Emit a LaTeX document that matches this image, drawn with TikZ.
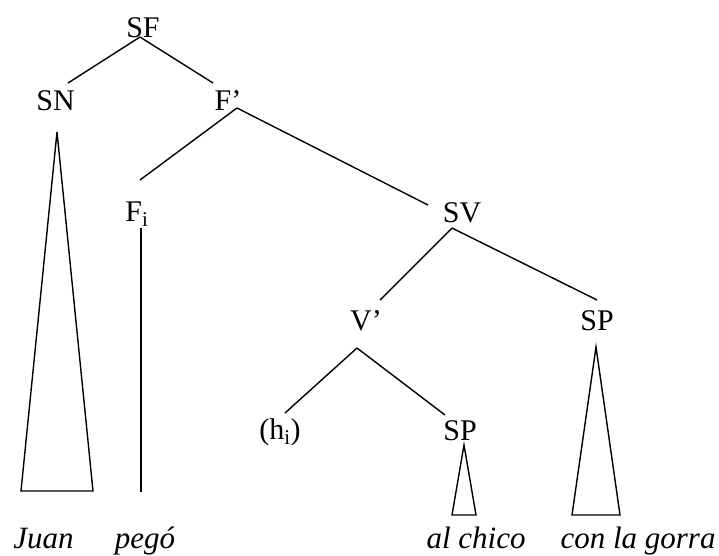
\documentclass[tikz,border=0pt]{standalone}
\usepackage{fontspec}
\setmainfont{Liberation Serif}
\usepackage{tikz}

\begin{document}
\begin{tikzpicture}[x=1pt, y=-1pt, line width=1.4pt,
	lbl/.style={anchor=base, inner sep=0pt, font=\fontsize{30}{36}\selectfont},
	leaf/.style={anchor=base, inner sep=0pt, font=\fontsize{31}{37}\selectfont\itshape}]
	\useasboundingbox (0,0) rectangle (719,555);
	% labels
	\node (sf) [at={(143,37)}, lbl] {SF};
	\node (sn) [at={(55.5,110)}, lbl] {SN};
	\node (fbar) [at={(228,110)}, lbl] {F'};
	\node (fi) [at={(137,221)}, lbl] {F\textsubscript{i}};
	\node (sv) [at={(462,222)}, lbl] {SV};
	\node (vbar) [at={(366,330)}, lbl] {V'};
	\node (spa) [at={(597,330)}, lbl] {SP};
	\node (h) [at={(280,439)}, lbl] {(h\textsubscript{i})};
	\node (spb) [at={(460,440)}, lbl] {SP};
	% words
	\node (juan) [at={(43.5,548)}, leaf] {Juan};
	\node (pego) [at={(145,548)}, leaf] {pegó};
	\node (chico) [at={(476,548)}, leaf] {al chico};
	\node (gorra) [at={(638,548)}, leaf] {con la gorra};
	% branches
	\draw ([shift={(-3,0)}]sf.base) -- ([shift={(12.5,-27)}]sn.base);
	\draw ([shift={(-3,0)}]sf.base) -- ([shift={(-15,-27)}]fbar.base);
	\draw ([shift={(9,-2)}]fbar.base) -- ([shift={(3,-41)}]fi.base);
	\draw ([shift={(9,-2)}]fbar.base) -- ([shift={(-34,-17)}]sv.base);
	\draw ([shift={(-10,6)}]sv.base) -- ([shift={(14,-30)}]vbar.base);
	\draw ([shift={(-10,6)}]sv.base) -- ([shift={(0,-30)}]spa.base);
	\draw ([shift={(-9,18)}]vbar.base) -- ([shift={(5,-26)}]h.base);
	\draw ([shift={(-9,18)}]vbar.base) -- ([shift={(-15,-25)}]spb.base);
	% triangles
	\draw ([shift={(1.5,22)}]sn.base) -- ([shift={(-22.5,-57)}]juan.base) -- ([shift={(49.5,-57)}]juan.base) -- cycle;
	\draw ([shift={(4,7)}]fi.base) -- ([shift={(-4,-56)}]pego.base);
	\draw ([shift={(4,5)}]spb.base) -- ([shift={(-24,-33)}]chico.base) -- ([shift={(0,-33)}]chico.base) -- cycle;
	\draw ([shift={(-1,17)}]spa.base) -- ([shift={(-66,-33)}]gorra.base) -- ([shift={(-18,-33)}]gorra.base) -- cycle;
\end{tikzpicture}
\end{document}
